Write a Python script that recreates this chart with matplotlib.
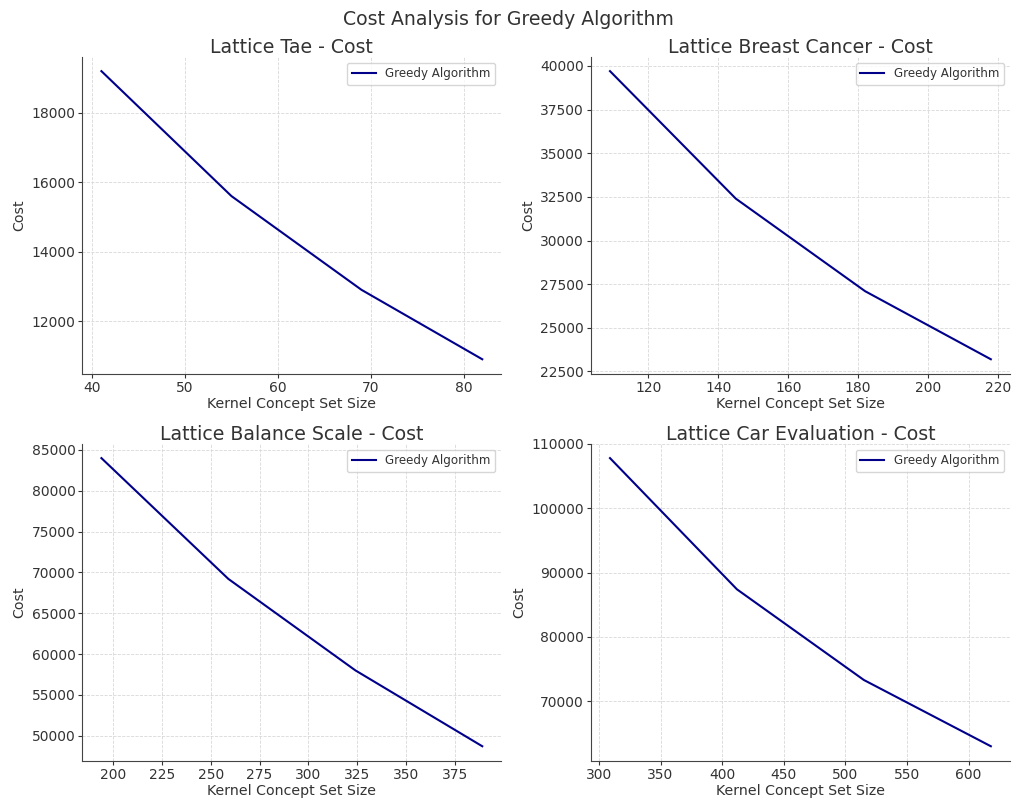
import matplotlib
matplotlib.use("Agg")
import matplotlib.pyplot as plt
from matplotlib.ticker import MultipleLocator

# kernel concept set sizes and greedy costs per lattice
tae_size = [41, 55, 69, 82]
tae_cost = [19200, 15600, 12900, 10900]

breast_size = [109, 145, 182, 218]
breast_cost = [39700, 32400, 27100, 23200]

balance_size = [194, 259, 324, 389]
balance_cost = [84000, 69200, 58000, 48700]

car_size = [309, 412, 515, 618]
car_cost = [107800, 87400, 73300, 63000]

titles = ["Lattice Tae - Cost", "Lattice Breast Cancer - Cost",
          "Lattice Balance Scale - Cost", "Lattice Car Evaluation - Cost"]
datasets = [(tae_size, tae_cost), (breast_size, breast_cost),
            (balance_size, balance_cost), (car_size, car_cost)]

txt = "#333333"
plt.rcParams.update({
    "text.color": txt, "axes.labelcolor": txt,
    "xtick.color": txt, "ytick.color": txt,
    "axes.edgecolor": "#444444",
})

fig, axes = plt.subplots(2, 2, figsize=(10.17, 7.99), dpi=100)
for ax, title, (x, y) in zip(axes.flat, titles, datasets):
    ax.plot(x, y, color="darkblue", linewidth=1.5, label="Greedy Algorithm")
    ax.set_title(title, fontsize=13.6, pad=3)
    ax.set_xlabel("Kernel Concept Set Size", fontsize=10.2, labelpad=1.5)
    ax.set_ylabel("Cost", fontsize=10.2, labelpad=3.5)
    ax.tick_params(labelsize=10, length=3, pad=2)
    ax.grid(True, linestyle="--", color="#d8d8d8", linewidth=0.6)
    ax.spines["top"].set_visible(False)
    ax.spines["right"].set_visible(False)
    ax.legend(loc="upper right", fontsize=8.6)

axes[1, 0].xaxis.set_major_locator(MultipleLocator(25))

fig.suptitle("Cost Analysis for Greedy Algorithm", fontsize=13.6, y=0.988)
fig.subplots_adjust(left=0.081, right=0.993, top=0.929, bottom=0.048,
                    wspace=0.214, hspace=0.221)
fig.savefig("out.png")
